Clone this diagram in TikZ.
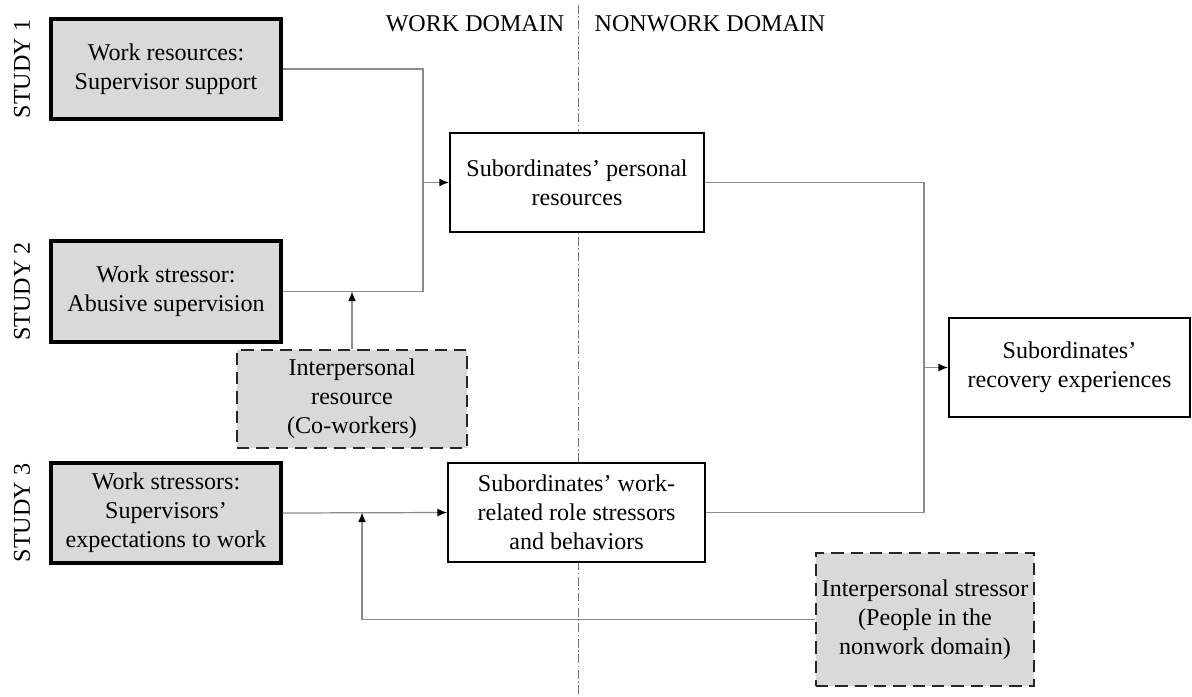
\documentclass[tikz,border=0pt]{standalone}
\usepackage{fontspec}
\setmainfont{Liberation Serif}
\usetikzlibrary{arrows.meta}
\tikzset{
  studybox/.style={draw=black,line width=1.8pt,fill=black!15,align=center,inner sep=2pt},
  outbox/.style={draw=black,line width=1.1pt,fill=white,align=center,inner sep=2pt},
  modbox/.style={draw=black!85,line width=1.1pt,fill=black!15,align=center,inner sep=2pt,dash pattern=on 7pt off 4pt},
  conn/.style={draw=black!45,line width=0.7pt},
  tip/.style={-{Latex[length=5.5pt,width=4.5pt,color=black]}},
  studylbl/.style={rotate=90,inner sep=0pt}
}
\begin{document}
\begin{tikzpicture}[x=0.02cm,y=-0.02cm,font=\fontsize{13.7}{16.4}\selectfont]
\useasboundingbox[fill=white] (0,0) rectangle (1192,696);
\draw[black!55,line width=0.5pt,dash pattern=on 5pt off 1.5pt on 0.8pt off 1.5pt] (578,5) -- (578,696);
\node (wdom) at (475,24) {WORK DOMAIN};
\node (ndom) at (710,24) {NONWORK DOMAIN};
\node[studybox,minimum width=4.6cm,minimum height=2cm] (sup) at (166,69) {Work resources:\\Supervisor support};
\node[studybox,minimum width=4.6cm,minimum height=2.02cm] (abu) at (166,291.5) {Work stressor:\\Abusive supervision};
\node[studybox,minimum width=4.6cm,minimum height=2cm] (expc) at (166,513) {Work stressors:\\Supervisors’\\expectations to work};
\node[studylbl] (s1) at (22,69) {STUDY 1};
\node[studylbl] (s2) at (22,291.5) {STUDY 2};
\node[studylbl] (s3) at (22,513) {STUDY 3};
\node[modbox,minimum width=4.6cm,minimum height=1.96cm] (cowork) at (352,399) {Interpersonal\\resource\\(Co-workers)};
\node[outbox,minimum width=5.08cm,minimum height=1.98cm] (pers) at (577,182.5) {Subordinates’ personal\\resources};
\node[outbox,minimum width=5.14cm,minimum height=1.98cm] (role) at (576.5,512.5) {Subordinates’ work-\\related role stressors\\and behaviors};
\node[outbox,minimum width=4.82cm,minimum height=1.98cm] (recov) at (1069.5,367.5) {Subordinates’\\recovery experiences};
\node[modbox,minimum width=4.36cm,minimum height=2.66cm] (nonw) at (925,619.5) {Interpersonal stressor\\(People in the\\nonwork domain)};
\coordinate (jn1) at (423,182.5);
\coordinate (jn2) at (924,367.5);
\coordinate (jn3) at (362,512.5);
\draw[conn] (sup.east) -| (jn1) |- (abu.east);
\draw[conn,tip] (jn1) -- (pers.west);
\draw[conn,tip] (cowork.north) -- (cowork.north |- abu.east);
\draw[conn] (pers.east) -| (jn2) |- (role.east);
\draw[conn,tip] (jn2) -- (recov.west);
\draw[conn,tip] (expc.east) -- (role.west);
\draw[conn,tip] (nonw.west) -| (jn3);
\end{tikzpicture}
\end{document}
